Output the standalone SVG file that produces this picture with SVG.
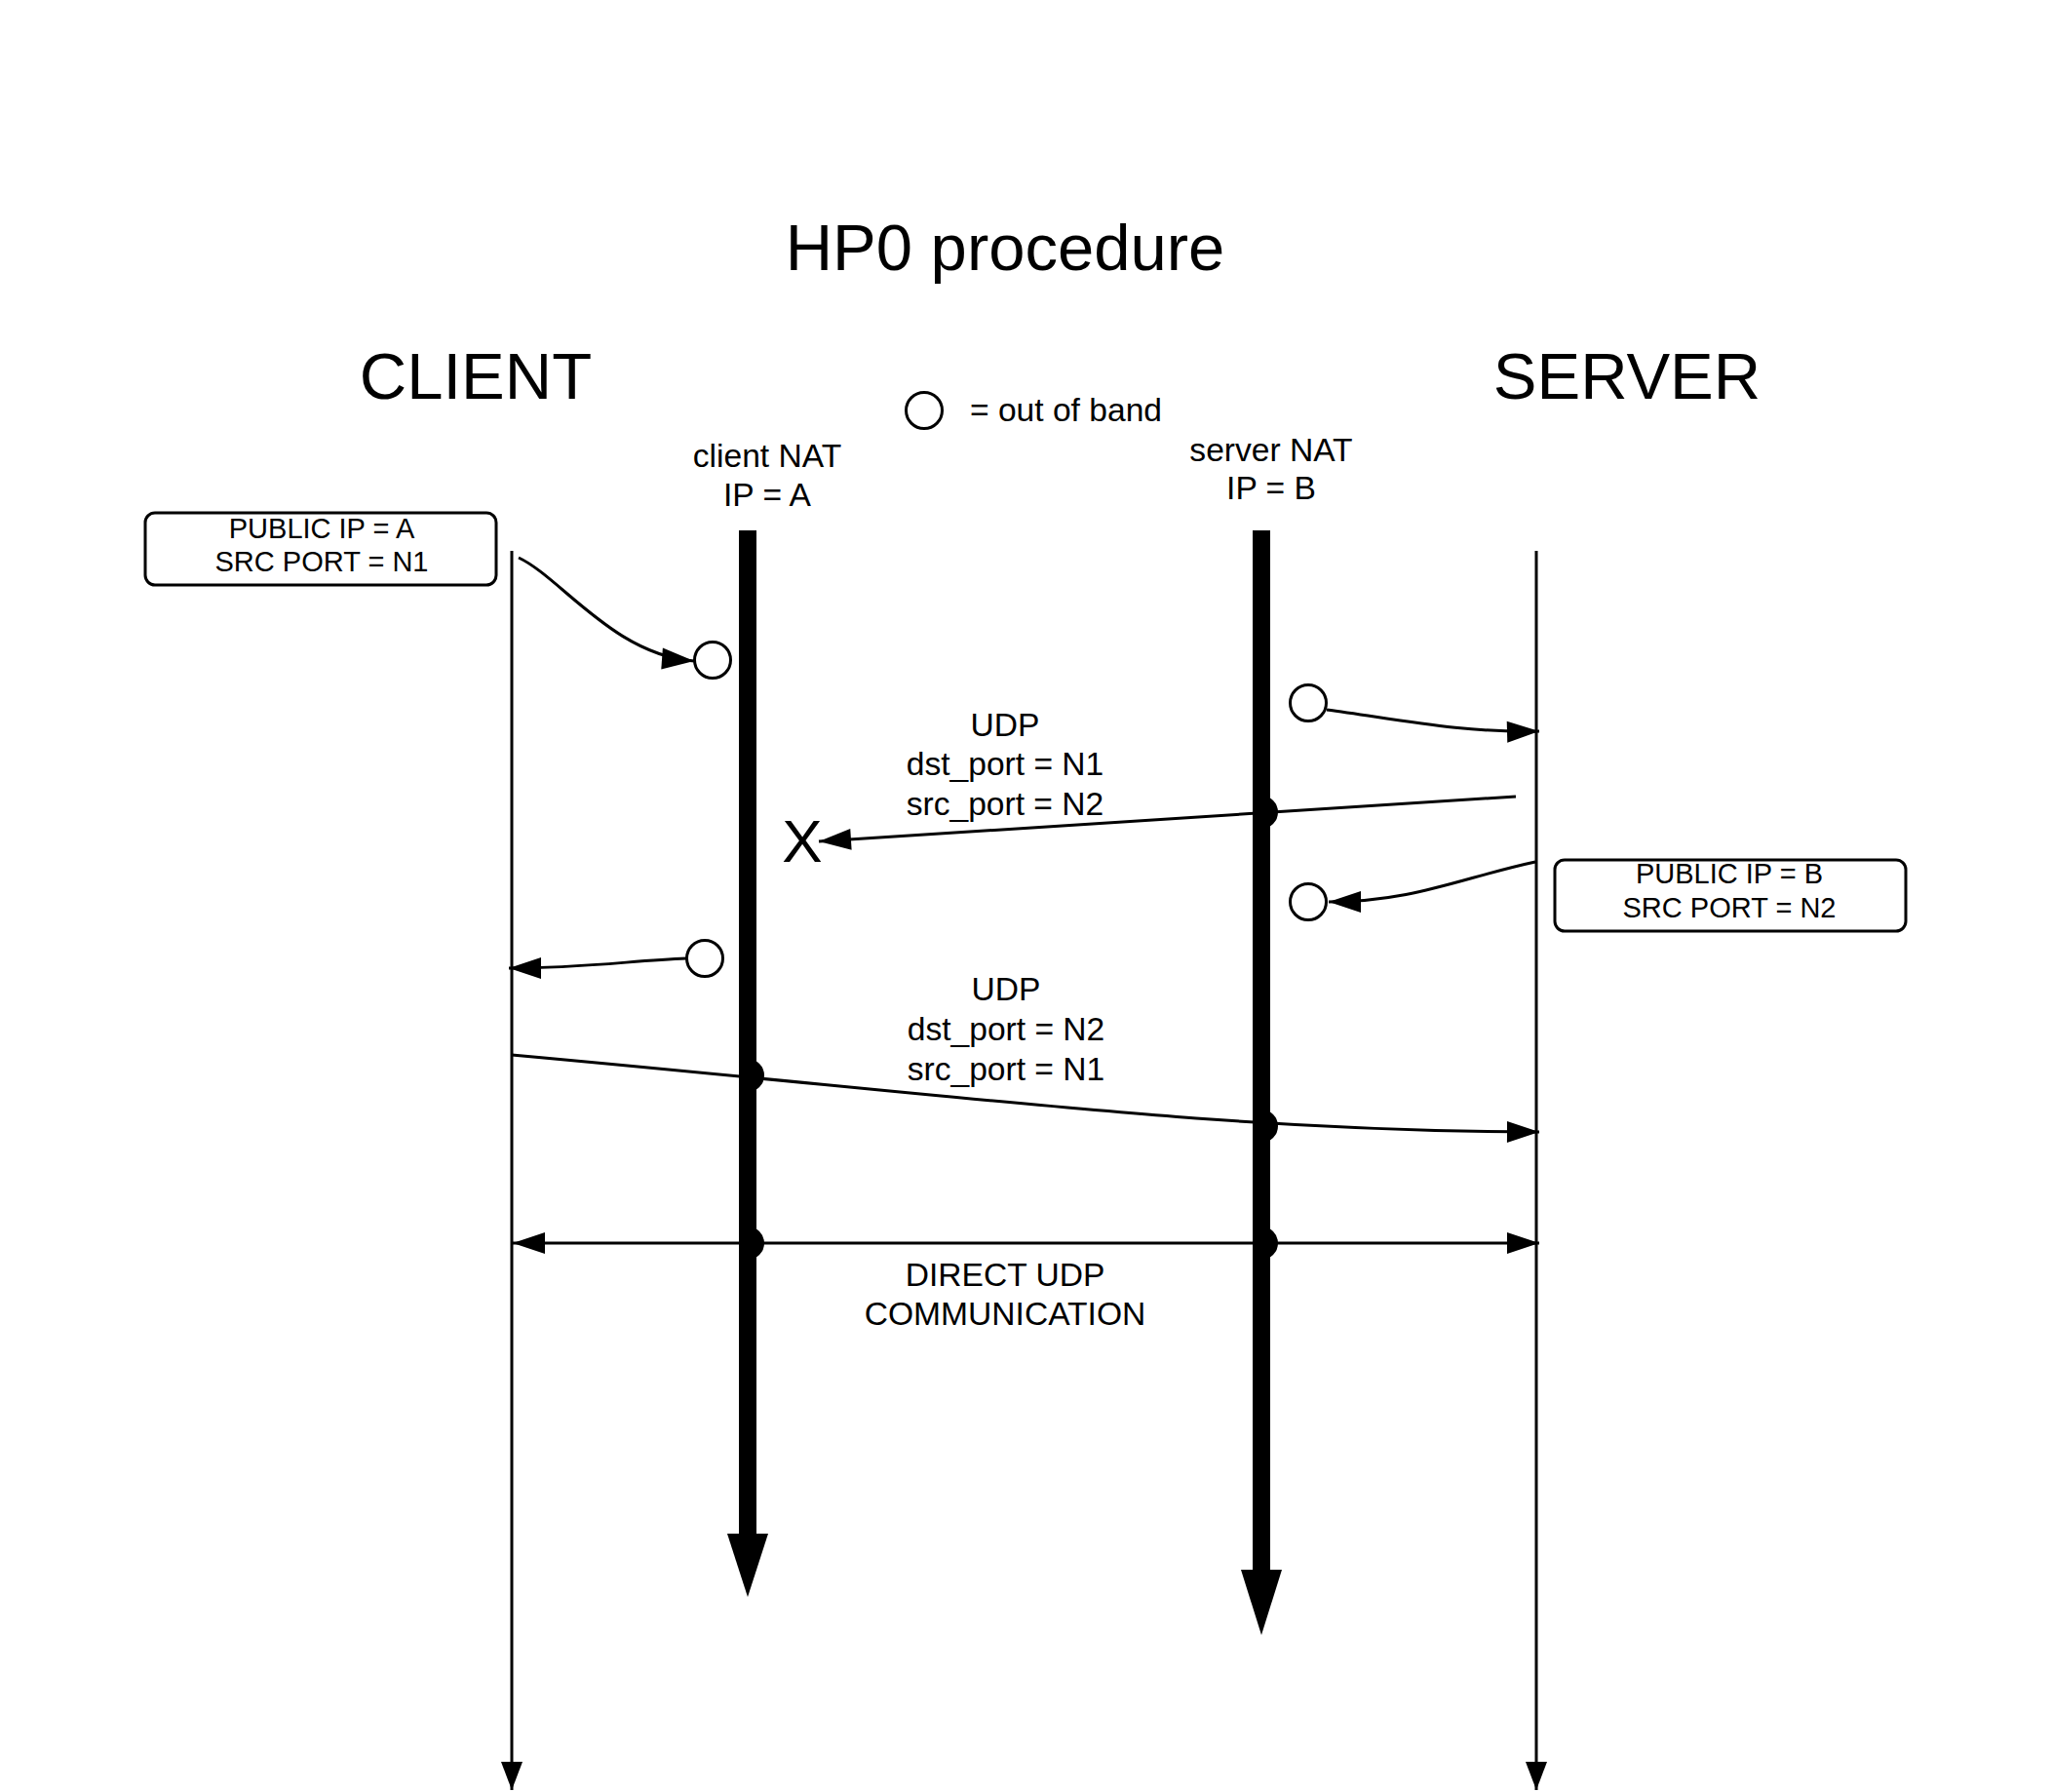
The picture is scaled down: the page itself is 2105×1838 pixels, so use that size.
<svg xmlns="http://www.w3.org/2000/svg" width="2105" height="1838" viewBox="0 0 2105 1838">
<style>
text{font-family:"Liberation Sans",Arial,sans-serif;fill:#000}
.big{font-size:67px}
.mid{font-size:33.6px}
.sm{font-size:29px}
.c{text-anchor:middle}
.ln{fill:none;stroke:#000;stroke-width:3}
.bar{fill:none;stroke:#000;stroke-width:18}
.oob{fill:#fff;stroke:#000;stroke-width:3}
.box{fill:#fff;stroke:#000;stroke-width:3}
</style>
<defs>
<marker id="arr" markerUnits="userSpaceOnUse" markerWidth="36" markerHeight="26" viewBox="-34 -13 36 26" refX="0" refY="0" orient="auto-start-reverse"><path d="M0,0 L-33,-11 L-33,11 Z" fill="#000"/></marker>
<marker id="arrL" markerUnits="userSpaceOnUse" markerWidth="32" markerHeight="26" viewBox="-30 -13 32 26" refX="0" refY="0" orient="auto"><path d="M0,0 L-29,-11 L-29,11 Z" fill="#000"/></marker>
</defs>
<rect width="2105" height="1838" fill="#fff"/>
<g id="title"><text class="big c" x="1031" y="277">HP0 procedure</text></g>
<g id="client-label"><text class="big c" x="488" y="409">CLIENT</text></g>
<g id="server-label"><text class="big c" x="1669" y="409">SERVER</text></g>
<g id="legend"><circle class="oob" cx="948" cy="421" r="18.5"/><text class="mid" x="995" y="432">= out of band</text></g>
<g id="client-nat-label"><text class="mid c" x="787" y="479">client NAT</text><text class="mid c" x="787" y="519">IP = A</text></g>
<g id="server-nat-label"><text class="mid c" x="1304" y="473">server NAT</text><text class="mid c" x="1304" y="512">IP = B</text></g>
<g id="client-box"><rect class="box" x="149" y="526" width="360" height="74" rx="10"/><text class="sm c" x="330" y="552">PUBLIC IP = A</text><text class="sm c" x="330" y="586">SRC PORT = N1</text></g>
<g id="server-box"><rect class="box" x="1595" y="882" width="360" height="73" rx="10"/><text class="sm c" x="1774" y="906">PUBLIC IP = B</text><text class="sm c" x="1774" y="941">SRC PORT = N2</text></g>
<g id="client-lifeline"><path class="ln" d="M525,565 V1836" marker-end="url(#arrL)"/></g>
<g id="server-lifeline"><path class="ln" d="M1576,565 V1836" marker-end="url(#arrL)"/></g>
<g id="connectors">
<path class="ln" d="M532,572 C575,592 630,672 712,678" marker-end="url(#arr)"/>
<path class="ln" d="M1361,728 C1430,737 1500,752 1579,750" marker-end="url(#arr)"/>
<path class="ln" d="M1555,817 L840,863" marker-end="url(#arr)"/>
<path class="ln" d="M1575,884 C1500,900 1450,925 1363,925" marker-end="url(#arr)"/>
<path class="ln" d="M704,983 C650,985 600,993 522,993" marker-end="url(#arr)"/>
<path class="ln" d="M525,1082 C1000,1125 1250,1160 1579,1161" marker-end="url(#arr)"/>
<path class="ln" d="M526,1275 H1579" marker-start="url(#arr)" marker-end="url(#arr)"/>
</g>
<g id="oob-circles">
<circle class="oob" cx="731" cy="677" r="18.5"/>
<circle class="oob" cx="1342" cy="721" r="18.5"/>
<circle class="oob" cx="1342" cy="925" r="18.5"/>
<circle class="oob" cx="723" cy="983" r="18.5"/>
</g>
<g id="drop"><text x="823" y="884" font-size="62" class="c">X</text></g>
<g id="client-nat">
<path class="bar" d="M767,544 V1095 A8,8 0 0 1 767,1111 V1267 A8,8 0 0 1 767,1283 V1574"/>
<polygon points="746,1573 788,1573 767,1638" fill="#000"/>
</g>
<g id="server-nat">
<path class="bar" d="M1294,544 V825 A8,8 0 0 1 1294,841 V1147 A8,8 0 0 1 1294,1163 V1267 A8,8 0 0 1 1294,1283 V1611"/>
<polygon points="1273,1610 1315,1610 1294,1677" fill="#000"/>
</g>
<g id="labels">
<text class="mid c" x="1031" y="755">UDP</text>
<text class="mid c" x="1031" y="795">dst_port = N1</text>
<text class="mid c" x="1031" y="836">src_port = N2</text>
<text class="mid c" x="1032" y="1026">UDP</text>
<text class="mid c" x="1032" y="1067">dst_port = N2</text>
<text class="mid c" x="1032" y="1108">src_port = N1</text>
<text class="mid c" x="1031" y="1319">DIRECT UDP</text>
<text class="mid c" x="1031" y="1359">COMMUNICATION</text>
</g>
</svg>
